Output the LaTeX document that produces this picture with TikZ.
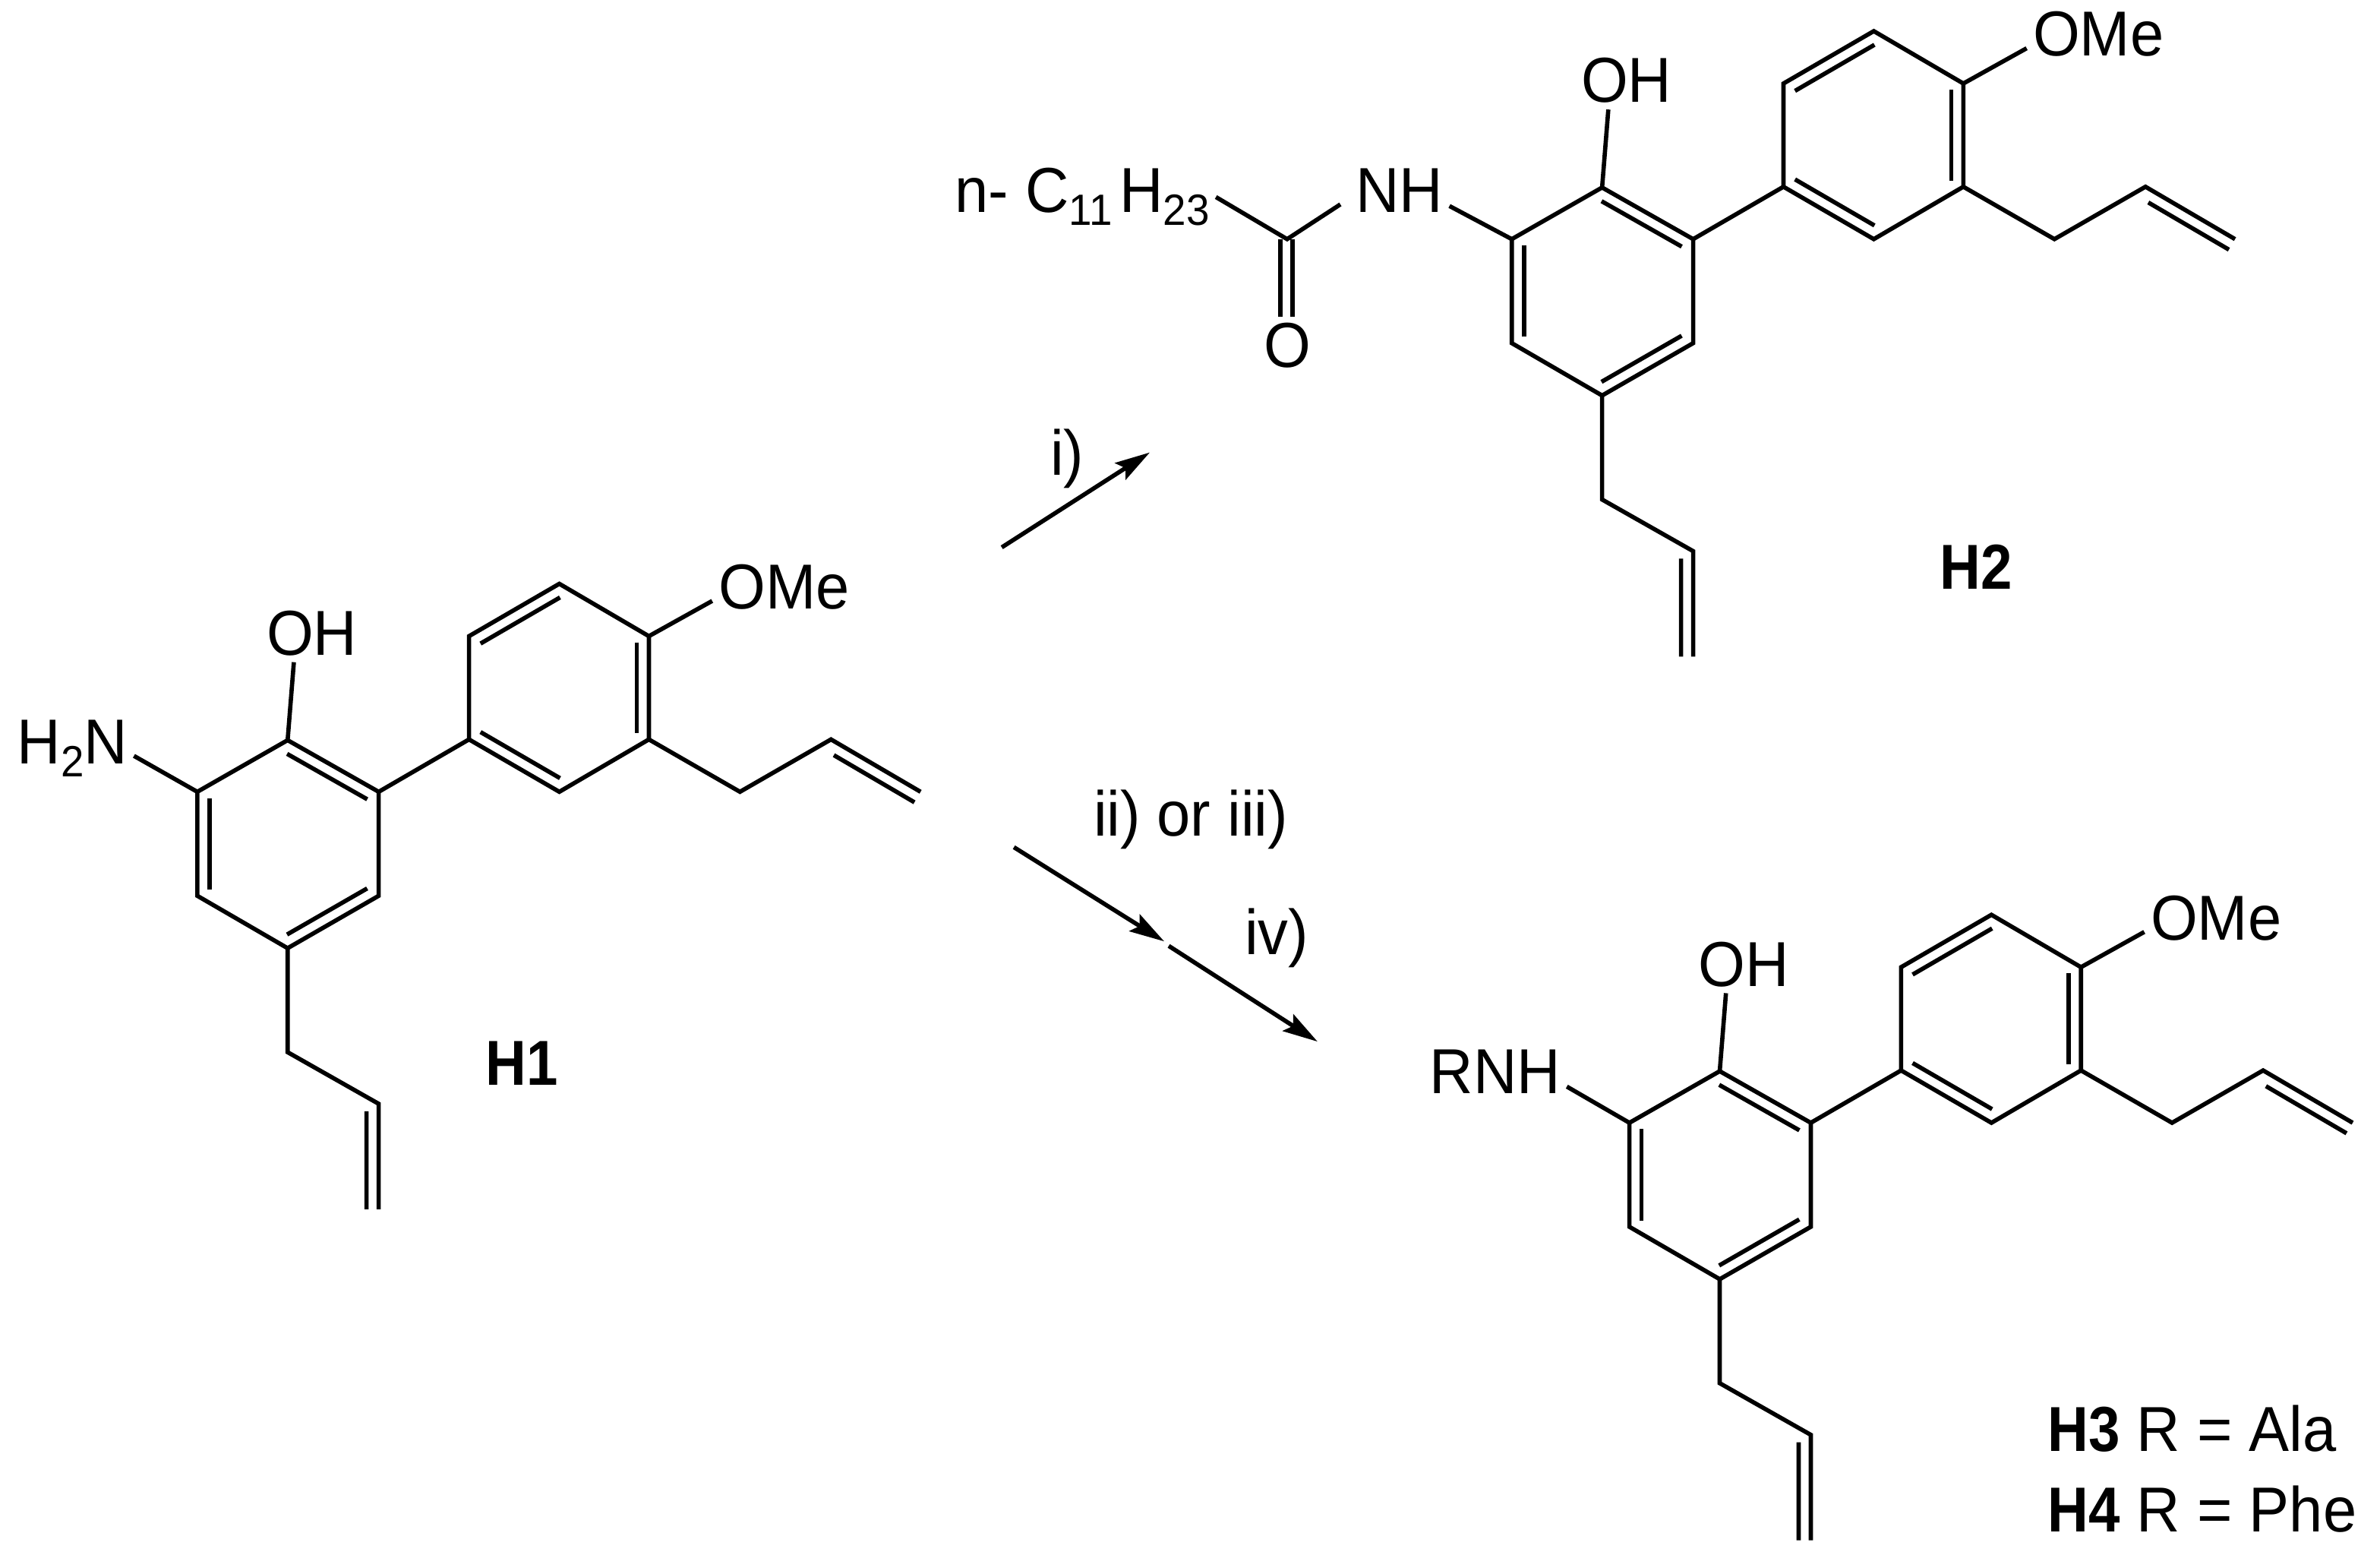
\documentclass[tikz,border=0pt]{standalone}
\usepackage{fontspec}
\setmainfont[FakeStretch=0.95, BoldFeatures={FakeStretch=0.89}]{Liberation Sans}
\usepackage{tikz}
\usetikzlibrary{arrows.meta, positioning, calc}

% inner line of a double bond: from, to, trim at start, trim at end
\newcommand{\dbond}[4]{
	\draw[bond] ($(#1)!#3!(#2)!0.08cm!-90:(#2)$) -- ($(#2)!#4!(#1)!0.08cm!90:(#1)$);
}

% subscript as the reference sets it
\newcommand{\chemsub}[1]{\raisebox{-0.085cm}{\fontsize{8.2}{9}\selectfont #1}}

% the skeleton shared by all three compounds: prefix, shift x, shift y
\newcommand{\skeleton}[3]{
	\begin{scope}[shift={(#2,#3)}]
		\coordinate (#1a) at (189.5,487.5);
		\coordinate (#1b) at (249.5,521.5);
		\coordinate (#1c) at (249.5,590);
		\coordinate (#1d) at (189.5,624.5);
		\coordinate (#1e) at (130,590);
		\coordinate (#1f) at (130,521.5);
		\coordinate (#1g) at (309,487);
		\coordinate (#1h) at (309,419);
		\coordinate (#1i) at (368.5,384.5);
		\coordinate (#1j) at (427.5,419);
		\coordinate (#1k) at (427.5,487);
		\coordinate (#1l) at (368.5,521.5);
		\coordinate (#1m) at (487.5,521.5);
		\coordinate (#1n) at (547.5,487);
		\coordinate (#1o) at (606.5,521.5);
		\coordinate (#1p) at (189.5,693);
		\coordinate (#1q) at (249.5,727);
		\coordinate (#1r) at (249.5,796.5);
		\node[atom] (#1oh) at (205.5,431.5) {OH};
		\node[atom] (#1ome) at (516.5,401) {OMe};
	\end{scope}
	\draw[bond] (#1a) -- (#1b) -- (#1c) -- (#1d) -- (#1e) -- (#1f) -- cycle;
	\draw[bond] (#1g) -- (#1h) -- (#1i) -- (#1j) -- (#1k) -- (#1l) -- cycle;
	\draw[bond] (#1b) -- (#1g);
	\draw[bond] (#1k) -- (#1m) -- (#1n) -- (#1o);
	\draw[bond] (#1d) -- (#1p) -- (#1q) -- (#1r);
	\draw[bond] (#1a) -- (#1oh.238);
	\draw[bond] (#1j) -- (#1ome.191);
	\dbond{#1a}{#1b}{.06}{.06}
	\dbond{#1c}{#1d}{.06}{.06}
	\dbond{#1e}{#1f}{.06}{.06}
	\dbond{#1h}{#1i}{.06}{.06}
	\dbond{#1j}{#1k}{.06}{.06}
	\dbond{#1l}{#1g}{.06}{.06}
	\dbond{#1n}{#1o}{.1}{0}
	\dbond{#1q}{#1r}{.07}{0}
}

\begin{document}
\begin{tikzpicture}[x=0.01cm, y=-0.01cm, >={Stealth[length=0.23cm, width=0.13cm, inset=0.04cm]}]
		
		% Define styles
		\tikzstyle{atom} = [anchor=base, inner sep=1pt, font=\fontsize{11.9}{13}\selectfont]
		\tikzstyle{bond} = [line width=0.8pt]
		\tikzstyle{reaction} = [line width=0.8pt, ->]
		
		\useasboundingbox (0,0) rectangle (1568,1024);
		
		% Compounds
		\skeleton{one}{0}{0}
		\skeleton{two}{866}{-364}
		\skeleton{three}{943.5}{218}
		
		% Amine on H1
		\node[atom] (onenh) at (47.7,503) {H\chemsub{2}N};
		\draw[bond] (onef) -- (onenh.-7);
		
		% Amide on H2
		\node[atom, anchor=base west] (chain) at (625,140) {n- C\chemsub{11}\kern1.4pt H\chemsub{23}};
		\node[atom] (twonh) at (922,140) {NH};
		\node[atom] (twoo) at (848,242) {O};
		\coordinate (amide) at (848,157.5);
		\draw[bond] (chain.east) -- (amide) -- ($(twonh.west)+(-6,9)$);
		\draw[bond] (twof) -- (twonh.-17);
		\draw[bond] ($(amide)+(-4.5,0)$) -- ($(twoo.north)+(-4.5,0)$);
		\draw[bond] ($(amide)+(3.5,0)$) -- ($(twoo.north)+(3.5,0)$);
		
		% Amine on H3
		\node[atom] (threenh) at (985,720) {RNH};
		\draw[bond] (threef) -- (threenh.-12);
		
		% Arrows
		\coordinate (ione) at (660,360.5);
		\coordinate (itwo) at (757.5,298);
		\coordinate (iione) at (668,558);
		\coordinate (iitwo) at (767,620);
		\coordinate (ivone) at (770,623);
		\coordinate (ivtwo) at (868,686);
		\draw[reaction] (ione) -- (itwo);
		\draw[reaction] (iione) -- (iitwo);
		\draw[reaction] (ivone) -- (ivtwo);
		
		% Labels
		\node[atom] (stepi) at (703,313) {i)};
		\node[atom] (stepii) at (784.5,550.5) {ii) or iii)};
		\node[atom] (stepiv) at (841,628.5) {iv)};
		\node[atom] (hone) at (344,714.5) {\textbf{H1}};
		\node[atom] (htwo) at (1302,388) {\textbf{H2}};
		\node[atom, anchor=base west] (hthree) at (1345,956) {\textbf{H3} R = Ala};
		\node[atom, anchor=base west] (hfour) at (1345,1009) {\textbf{H4} R = Phe};
		
	\end{tikzpicture}
\end{document}
